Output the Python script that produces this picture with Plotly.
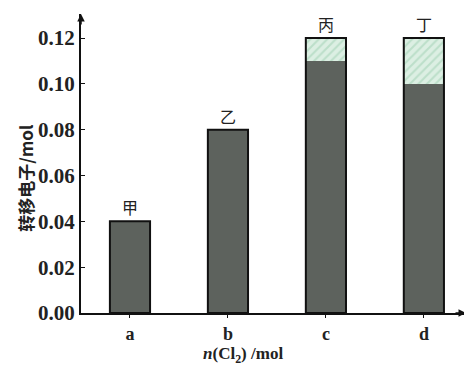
import plotly.graph_objects as go

categories = ["a", "b", "c", "d"]
total_values = [0.04, 0.08, 0.12, 0.12]
dark_values = [0.04, 0.08, 0.11, 0.10]
bar_labels = ["甲", "乙", "丙", "丁"]
y_ticks = [0.00, 0.02, 0.04, 0.06, 0.08, 0.10, 0.12]

dark = "#5d625d"
serif = "Liberation Serif"

fig = go.Figure()
# light (hatched) upper part
fig.add_trace(go.Bar(
    x=categories, y=total_values, width=0.41,
    marker=dict(color="#dcefe3", line=dict(width=0),
                pattern=dict(shape="/", fgcolor="#9ccfb0", size=6, solidity=0.35)),
    hoverinfo="skip", showlegend=False))
# dark part
fig.add_trace(go.Bar(
    x=categories, y=dark_values, width=0.41,
    marker=dict(color=dark, line=dict(width=0)),
    showlegend=False))
# outline
fig.add_trace(go.Bar(
    x=categories, y=total_values, width=0.41,
    marker=dict(color="rgba(0,0,0,0)", line=dict(color="#111111", width=2)),
    hoverinfo="skip", showlegend=False))

annotations = []
for c, v, lab in zip(categories, total_values, bar_labels):
    annotations.append(dict(x=c, y=v, text=lab, showarrow=False, yanchor="bottom",
                            yshift=0, font=dict(family="Noto Sans CJK SC", size=16, color="#222")))

# axis arrows
annotations.append(dict(xref="paper", yref="paper", x=0, y=1.0, ax=0, ay=12, showarrow=True,
                        arrowhead=2, arrowsize=1, arrowwidth=1.5, arrowcolor="#111", text=""))
annotations.append(dict(xref="paper", yref="paper", x=1.0, y=0, ax=-12, ay=0, showarrow=True,
                        arrowhead=2, arrowsize=1, arrowwidth=1.5, arrowcolor="#111", text=""))
# axis titles
annotations.append(dict(xref="paper", yref="paper", x=-0.145, y=0.45, text="转移电子/mol",
                        textangle=-90, showarrow=False, xanchor="center", yanchor="middle",
                        font=dict(family="Noto Sans CJK SC", size=17, color="#222", weight="bold")))
annotations.append(dict(xref="paper", yref="paper", x=0.42, y=-0.14, text="<i>n</i>(Cl<sub>2</sub>) /mol",
                        showarrow=False, xanchor="center", yanchor="middle",
                        font=dict(family=serif, size=17, color="#222", weight="bold")))

fig.update_layout(
    barmode="overlay",
    width=464, height=359,
    margin=dict(l=73, r=6, t=6, b=54, autoexpand=False),
    plot_bgcolor="white", paper_bgcolor="white",
    annotations=annotations,
    xaxis=dict(range=[-0.5, 3.43], showline=True, linecolor="#111", linewidth=2,
               ticks="outside", ticklen=3, tickcolor="#111", showgrid=False, automargin=False,
               tickfont=dict(family=serif, size=18, color="#222", weight="bold")),
    yaxis=dict(range=[0, 0.1305], tickvals=y_ticks, tickformat=".2f", automargin=False,
               showline=True, linecolor="#111", linewidth=2,
               ticks="inside", ticklen=4, tickcolor="#111", showgrid=False, zeroline=False,
               tickfont=dict(family=serif, size=21, color="#222", weight="bold")),
)

fig.write_html("out.html")
